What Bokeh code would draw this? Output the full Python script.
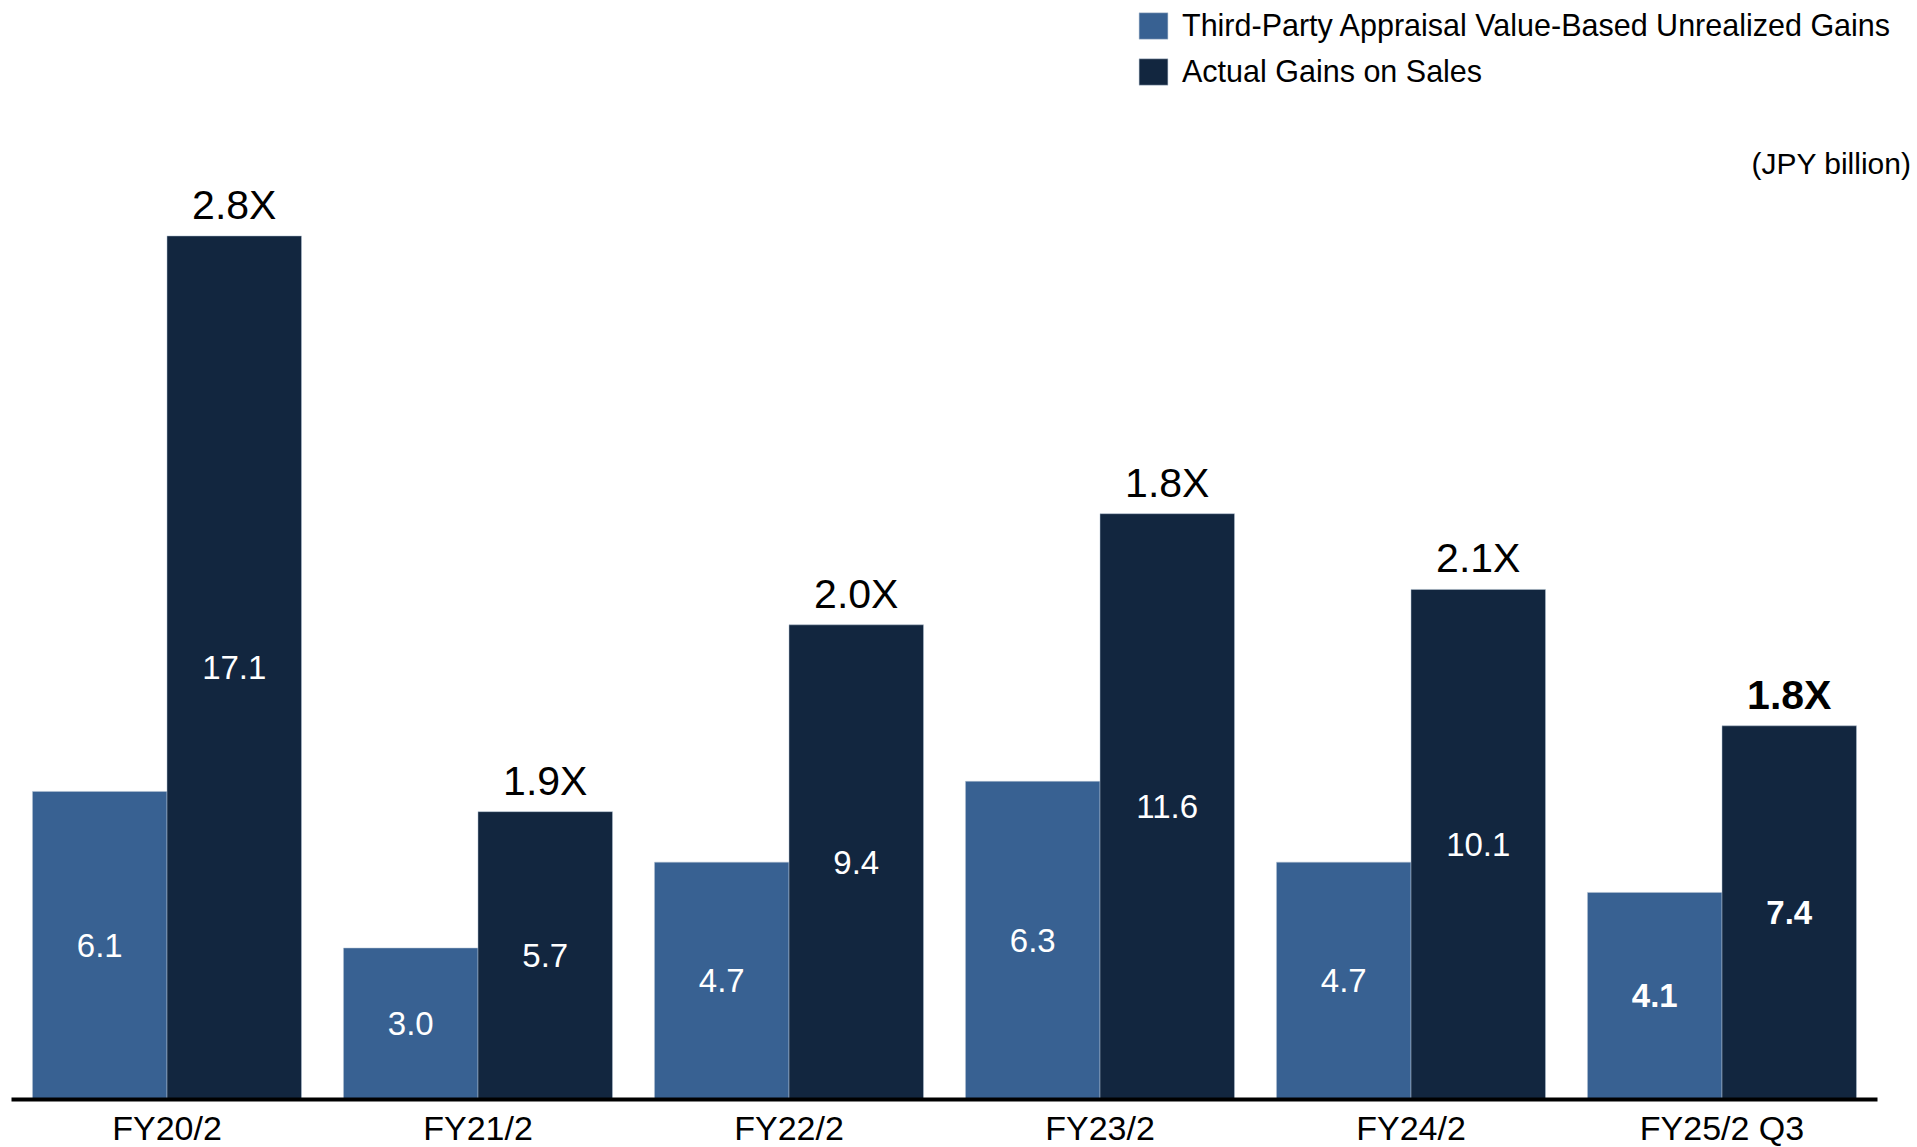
from bokeh.plotting import figure
from bokeh.models import ColumnDataSource, Range1d, Legend, LegendItem, Label
from bokeh.core.properties import value
from bokeh.embed import file_html
from bokeh.resources import INLINE

categories = ["FY20/2", "FY21/2", "FY22/2", "FY23/2", "FY24/2", "FY25/2 Q3"]
unrealized = [6.1, 3.0, 4.7, 6.3, 4.7, 4.1]
actual = [17.1, 5.7, 9.4, 11.6, 10.1, 7.4]
ratio_labels = ["2.8X", "1.9X", "2.0X", "1.8X", "2.1X", "1.8X"]
label_styles = ["normal", "normal", "normal", "normal", "normal", "bold"]
series_names = ["Third-Party Appraisal Value-Based Unrealized Gains", "Actual Gains on Sales"]

LIGHT = "#386192"
DARK = "#12263F"
EDGE = "#b4c3d4"
FONT = "Liberation Sans"

W = 0.4325  # bar width in category units
centers = [i + 0.5 for i in range(len(categories))]

src = ColumnDataSource(dict(
    xc=centers,
    xu=[c - W / 2 for c in centers],
    xa=[c + W / 2 for c in centers],
    cat=categories,
    unrealized=unrealized,
    actual=actual,
    u_mid=[v / 2 for v in unrealized],
    a_mid=[v / 2 for v in actual],
    u_txt=[f"{v:.1f}" for v in unrealized],
    a_txt=[f"{v:.1f}" for v in actual],
    ratio=ratio_labels,
    style=label_styles,
    zero=[0] * len(categories),
))

PXU = 311.0   # pixels per category
PXV = 50.5    # pixels per value unit
p = figure(
    width=1917, height=1147,
    x_range=Range1d(-11 / PXU, (1917 - 11) / PXU),
    y_range=Range1d(-(1147 - 1099) / PXV, 1099 / PXV),
    output_backend="svg", toolbar_location=None,
    min_border_left=0, min_border_right=0, min_border_top=0, min_border_bottom=0,
)
p.outline_line_color = None
p.xgrid.visible = False
p.ygrid.visible = False
p.xaxis.visible = False
p.yaxis.visible = False
p.background_fill_color = "white"
p.border_fill_color = "white"

r1 = p.vbar(x="xu", top="unrealized", width=W, source=src,
            fill_color=LIGHT, line_color=EDGE, line_width=1, line_alpha=0.5)
r2 = p.vbar(x="xa", top="actual", width=W, source=src,
            fill_color=DARK, line_color=EDGE, line_width=1, line_alpha=0.5)

# baseline spanning all categories
p.segment(x0=0, x1=len(categories), y0=0, y1=0, line_color="black", line_width=4)

p.text(x="xu", y="u_mid", text="u_txt", source=src,
       text_color="white", text_font=value(FONT), text_font_size="33px",
       text_font_style="style", text_align="center", text_baseline="middle")
p.text(x="xa", y="a_mid", text="a_txt", source=src,
       text_color="white", text_font=value(FONT), text_font_size="33px",
       text_font_style="style", text_align="center", text_baseline="middle")
p.text(x="xa", y="actual", text="ratio", source=src,
       text_color="black", text_font=value(FONT), text_font_size="41px",
       text_font_style="style", text_align="center", text_baseline="bottom", y_offset=-8)
p.text(x="xc", y="zero", text="cat", source=src,
       text_color="black", text_font=value(FONT), text_font_size="34px",
       text_align="center", text_baseline="top", y_offset=9)

legend = Legend(items=[LegendItem(label=series_names[0], renderers=[r1]),
                       LegendItem(label=series_names[1], renderers=[r2])],
                location=(1135, 1058), orientation="vertical",
                label_text_font=FONT, label_text_font_size="30.5px", label_text_color="black",
                glyph_width=36, glyph_height=33, label_standoff=11, spacing=11,
                padding=0, margin=0, border_line_color=None, background_fill_alpha=0)
p.add_layout(legend, "center")

unit = Label(x=1911, y=1147 - 163, x_units="screen", y_units="screen",
             text="(JPY billion)", text_font=FONT, text_font_size="30px",
             text_align="right", text_baseline="middle", text_color="black")
p.add_layout(unit)

open("out.html", "w").write(file_html(p, INLINE))
